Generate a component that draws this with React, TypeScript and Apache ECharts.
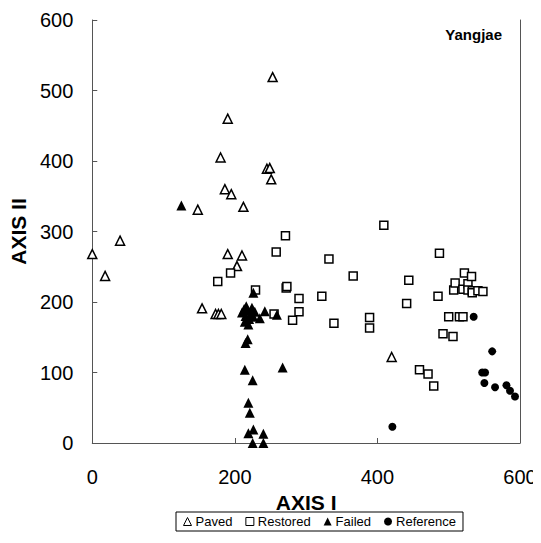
import React, { useEffect, useRef } from "react";
import * as echarts from "echarts";

const xTicks = [0, 200, 400, 600];
const yTicks = [0, 100, 200, 300, 400, 500, 600];

const paved: [number, number][] = [
  [0, 268], [18, 237], [39, 287], [148, 331], [154, 191], [173, 183], [177, 183], [181, 183],
  [180, 405], [186, 360], [190, 460], [190, 268], [195, 353], [203, 251], [210, 266], [212, 335],
  [245, 389], [249, 390], [251, 374], [253, 519], [420, 122],
];

const restored: [number, number][] = [
  [176, 229], [194, 241], [229, 217], [258, 271], [271, 294], [272, 220], [273, 222], [255, 183],
  [281, 174], [290, 205], [290, 186], [322, 208], [332, 261], [339, 170], [366, 237], [389, 178],
  [389, 163], [409, 309], [441, 198], [444, 231], [459, 104], [471, 98], [479, 81], [485, 208],
  [487, 269], [492, 155], [500, 179], [506, 151], [507, 217], [509, 227], [515, 179], [520, 179],
  [520, 218], [522, 241], [527, 226], [527, 217], [532, 236], [533, 216], [533, 213], [541, 216],
  [548, 215],
];

const failed: [number, number][] = [
  [125, 337], [226, 213], [210, 185], [213, 190], [215, 180], [218, 188], [220, 176], [222, 183],
  [224, 192], [226, 179], [214, 172], [219, 168], [228, 186], [216, 194], [235, 177], [242, 187],
  [259, 182], [218, 147], [215, 142], [214, 104], [267, 107], [225, 89], [219, 57], [221, 43],
  [226, 19], [219, 14], [240, 13], [225, 0], [240, 0],
];

const reference: [number, number][] = [
  [421, 23], [535, 179], [561, 130], [547, 100], [551, 100], [550, 85], [565, 79], [581, 82],
  [586, 74], [593, 66],
];

const FONT = "Arial, 'Liberation Sans', Helvetica, sans-serif";

export default function App() {
  const ref = useRef<HTMLDivElement>(null);
  useEffect(() => {
    if (!ref.current) return;
    const chart = echarts.init(ref.current, null, { renderer: "svg" });
    const axisLine = { show: true, lineStyle: { color: "#555", width: 1 } };
    chart.setOption({
      animation: false,
      backgroundColor: "#fff",
      grid: { left: 89, right: 21, top: 20, bottom: 100, containLabel: false },
      xAxis: [
        {
          type: "value",
          min: xTicks[0],
          max: xTicks[xTicks.length - 1],
          interval: 200,
          name: "AXIS I",
          nameLocation: "middle",
          nameGap: 42,
          nameTextStyle: { fontFamily: FONT, fontSize: 21, fontWeight: "bold", color: "#000" },
          axisLine,
          axisTick: { show: true, inside: true, length: 5, lineStyle: { color: "#555" } },
          axisLabel: { fontFamily: FONT, fontSize: 20, color: "#000", margin: 24 },
          splitLine: { show: false },
        },
      ],
      yAxis: [
        {
          type: "value",
          min: yTicks[0],
          max: yTicks[yTicks.length - 1],
          interval: 100,
          name: "AXIS II",
          nameLocation: "middle",
          nameRotate: 90,
          nameGap: 56,
          nameTextStyle: { fontFamily: FONT, fontSize: 21, fontWeight: "bold", color: "#000" },
          axisLine,
          axisTick: { show: true, inside: true, length: 5, lineStyle: { color: "#555" } },
          axisLabel: { fontFamily: FONT, fontSize: 20, color: "#000", margin: 19 },
          splitLine: { show: false },
        },
        {
          type: "value",
          position: "right",
          min: 0,
          max: 600,
          interval: 100,
          axisLine,
          axisTick: { show: false },
          axisLabel: { show: false },
          splitLine: { show: false },
        },
      ],
      legend: {
        left: 176,
        top: 512,
        orient: "horizontal",
        borderColor: "#000",
        borderWidth: 1,
        padding: [3, 7],
        itemGap: 13,
        itemWidth: 8,
        itemHeight: 8,
        textStyle: { fontFamily: FONT, fontSize: 13, color: "#000", padding: [0, 0, 0, -1] },
        data: [
          { name: "Paved", icon: "triangle", itemStyle: { borderWidth: 1 } },
          { name: "Restored", icon: "rect", itemStyle: { borderWidth: 1 } },
          { name: "Failed", icon: "triangle" },
          { name: "Reference", icon: "circle" },
        ],
      },
      graphic: [
        {
          type: "text",
          right: 39,
          top: 27,
          style: { text: "Yangjae", fontFamily: FONT, fontSize: 15, fontWeight: "bold", fill: "#000" },
        },
      ],
      series: [
        {
          name: "Paved",
          type: "scatter",
          symbol: "triangle",
          symbolSize: 9,
          data: paved,
          itemStyle: { color: "#fff", borderColor: "#000", borderWidth: 1.5, opacity: 1 },
        },
        {
          name: "Restored",
          type: "scatter",
          symbol: "rect",
          symbolSize: 8,
          data: restored,
          itemStyle: { color: "#fff", borderColor: "#000", borderWidth: 1.5, opacity: 1 },
        },
        {
          name: "Failed",
          type: "scatter",
          symbol: "triangle",
          symbolSize: 10,
          data: failed,
          itemStyle: { color: "#000", opacity: 1 },
        },
        {
          name: "Reference",
          type: "scatter",
          symbol: "circle",
          symbolSize: 8,
          data: reference,
          itemStyle: { color: "#000", opacity: 1 },
        },
      ],
    });
    return () => chart.dispose();
  }, []);
  return <div ref={ref} style={{ width: 541, height: 543, margin: -8 }} />;
}
